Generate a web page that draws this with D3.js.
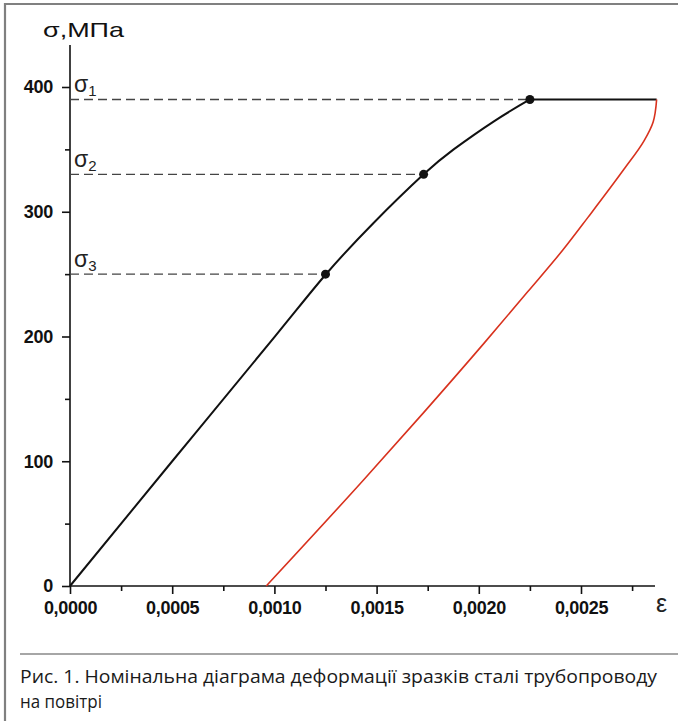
<!DOCTYPE html>
<html><head><meta charset="utf-8">
<script src="https://cdn.jsdelivr.net/npm/d3@7"></script>
<style>body{margin:0;background:#fff}svg{display:block}</style>
</head><body>
<script>
// ---- data ----
const loadStrain = [0, 0.0005, 0.0010, 0.00125, 0.001485, 0.00173, 0.001877, 0.002074, 0.00225];
const loadStress = [0, 100, 199.5, 249.5, 291, 330, 350, 372.5, 390];
const plateauStrain = [0.00225, 0.00287];
const plateauStress = [390, 390];
const unloadStrain = [0.00096, 0.001436, 0.00173, 0.002025, 0.00224, 0.002412, 0.002534, 0.00271, 0.002809, 0.002853, 0.00287];
const unloadStress = [0, 85, 139, 194.5, 236, 269.5, 295.5, 334, 357, 372, 390];
const markStrain = [0.00125, 0.00173, 0.00225];
const markStress = [250, 330, 390];
const markLabels = ["3", "2", "1"];
const xTicks = [0, 0.0005, 0.0010, 0.0015, 0.0020, 0.0025];
const xTickLabels = ["0,0000", "0,0005", "0,0010", "0,0015", "0,0020", "0,0025"];
const xMinor = [0.00025, 0.00075, 0.00125, 0.00175, 0.00225, 0.00275];
const yTicks = [0, 100, 200, 300, 400];
const yMinor = [50, 150, 250, 350];
const yTitle = "σ,МПа";
const xTitle = "ε";
const captionLines = ["Рис. 1. Номінальна діаграма деформації зразків сталі трубопроводу", "на повітрі"];

const W = 678, H = 721;
const svg = d3.select("body").append("svg").attr("width", W).attr("height", H);

// frame
svg.append("line").attr("x1", 5).attr("x2", W).attr("y1", 4).attr("y2", 4).attr("stroke", "#808080").attr("stroke-width", 2.2);
svg.append("line").attr("x1", 5).attr("x2", 5).attr("y1", 3).attr("y2", H).attr("stroke", "#808080").attr("stroke-width", 2.2);
svg.append("line").attr("x1", 20).attr("x2", W).attr("y1", 654).attr("y2", 654).attr("stroke", "#888").attr("stroke-width", 1.6);

const x = d3.scaleLinear().domain([0, 0.0025]).range([70, 581]);
const y = d3.scaleLinear().domain([0, 400]).range([586, 87]);

const tickFont = "'Liberation Sans', Arial, sans-serif";

// axes
const xAxis = svg.append("g").attr("transform", `translate(0,${y(0)})`)
  .call(d3.axisBottom(x).tickValues(xTicks).tickFormat((d, i) => xTickLabels[i]).tickSize(8).tickPadding(7).tickSizeOuter(0));
xAxis.select(".domain").attr("d", `M${x(0)},0H655`).attr("stroke", "#111").attr("stroke-width", 1.6);
xAxis.selectAll(".tick line").attr("stroke", "#111").attr("stroke-width", 1.6);
xAxis.selectAll("text").attr("font-family", tickFont).attr("font-weight", "bold").attr("font-size", 18).attr("letter-spacing", -0.3).attr("fill", "#111");
const xm = svg.append("g").attr("transform", `translate(0,${y(0)})`)
  .call(d3.axisBottom(x).tickValues(xMinor).tickFormat("").tickSize(5).tickSizeOuter(0));
xm.select(".domain").remove();
xm.selectAll(".tick line").attr("stroke", "#111").attr("stroke-width", 1.6);

const yAxis = svg.append("g").attr("transform", `translate(${x(0)},0)`)
  .call(d3.axisLeft(y).tickValues(yTicks).tickFormat(d3.format("d")).tickSize(8).tickPadding(9).tickSizeOuter(0));
yAxis.select(".domain").attr("d", `M0,${y(0)}V45`).attr("stroke", "#111").attr("stroke-width", 1.6);
yAxis.selectAll(".tick line").attr("stroke", "#111").attr("stroke-width", 1.6);
yAxis.selectAll("text").attr("font-family", tickFont).attr("font-weight", "bold").attr("font-size", 18).attr("letter-spacing", -0.3).attr("fill", "#111");
const ym = svg.append("g").attr("transform", `translate(${x(0)},0)`)
  .call(d3.axisLeft(y).tickValues(yMinor).tickFormat("").tickSize(5).tickSizeOuter(0));
ym.select(".domain").remove();
ym.selectAll(".tick line").attr("stroke", "#111").attr("stroke-width", 1.6);

// titles
svg.append("text").attr("x", 43).attr("y", 37).attr("font-family", tickFont).attr("font-size", 21)
  .attr("fill", "#111").attr("textLength", 81).attr("lengthAdjust", "spacingAndGlyphs").text(yTitle);
svg.append("text").attr("x", 656).attr("y", 612).attr("font-family", tickFont).attr("font-size", 25).attr("fill", "#222").text(xTitle);

// dashed reference lines
markStrain.forEach((e, i) => {
  svg.append("line").attr("x1", x(0)).attr("x2", x(e)).attr("y1", y(markStress[i])).attr("y2", y(markStress[i]))
    .attr("stroke", "#444").attr("stroke-width", 1.3).attr("stroke-dasharray", "9,5");
  const t = svg.append("text").attr("x", 74).attr("y", y(markStress[i]) - 7)
    .attr("font-family", tickFont).attr("font-size", 23).attr("fill", "#222");
  t.append("tspan").text("σ");
  t.append("tspan").attr("font-size", 15).attr("dy", 4).text(markLabels[i]);
});

const line = d3.line().x(d => x(d[0])).y(d => y(d[1])).curve(d3.curveNatural);
svg.append("path").datum(loadStrain.map((e, i) => [e, loadStress[i]]))
  .attr("d", line).attr("fill", "none").attr("stroke", "#111").attr("stroke-width", 2);
svg.append("path").datum(plateauStrain.map((e, i) => [e, plateauStress[i]]))
  .attr("d", d3.line().x(d => x(d[0])).y(d => y(d[1]))).attr("fill", "none").attr("stroke", "#111").attr("stroke-width", 2);
const line2 = d3.line().x(d => x(d[0])).y(d => y(d[1])).curve(d3.curveMonotoneY);
svg.append("path").datum(unloadStrain.map((e, i) => [e, unloadStress[i]]))
  .attr("d", line2).attr("fill", "none").attr("stroke", "#d8321e").attr("stroke-width", 1.6);

svg.selectAll("circle.m").data(markStrain).enter().append("circle")
  .attr("cx", d => x(d)).attr("cy", (d, i) => y(markStress[i])).attr("r", 4.5).attr("fill", "#111");

// caption
captionLines.forEach((s, i) => {
  const t = svg.append("text").attr("x", 20).attr("y", 683 + i * 25)
    .attr("font-family", "'Open Sans', 'Noto Sans', sans-serif").attr("font-size", 18).attr("fill", "#1a1a1a").text(s);
  if (i === 0) t.attr("textLength", 637).attr("lengthAdjust", "spacingAndGlyphs");
  else t.attr("textLength", 82).attr("lengthAdjust", "spacingAndGlyphs");
});
</script>
</body></html>
